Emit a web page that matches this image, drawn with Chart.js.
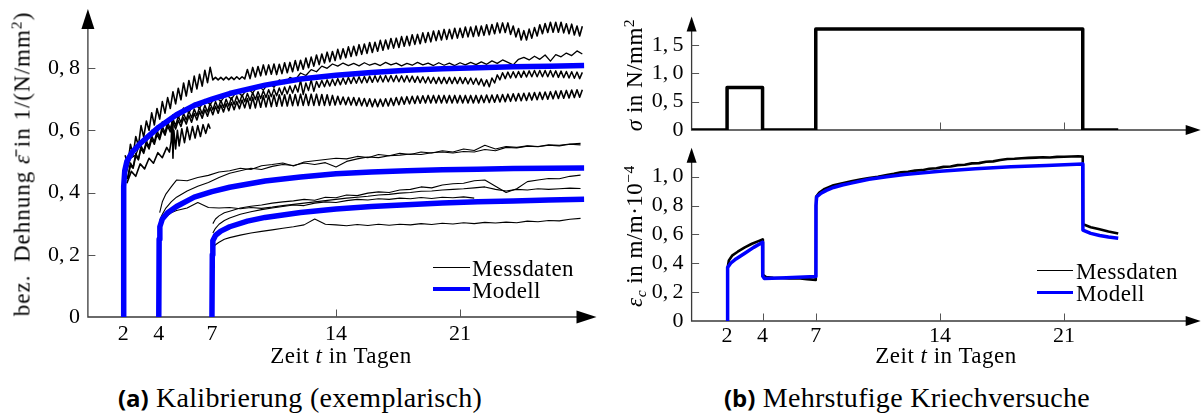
<!DOCTYPE html>
<html><head><meta charset="utf-8">
<script src="https://cdn.jsdelivr.net/npm/chart.js@4.4.1/dist/chart.umd.min.js"></script>
<style>
html,body{margin:0;padding:0;background:#fff;}
body{width:1203px;height:419px;position:relative;overflow:hidden;font-family:"Liberation Serif",serif;color:#000;}
canvas{position:absolute;}
.t{position:absolute;white-space:nowrap;line-height:1;transform:translate(-50%,-50%);font-size:23px;letter-spacing:0.5px;}
.r{transform:translate(-50%,-50%) rotate(-90deg);}
.l{position:absolute;white-space:nowrap;line-height:1;transform:translateY(-50%);font-size:23px;letter-spacing:0.4px;}
.ln{position:absolute;height:0;}
.cap{position:absolute;white-space:nowrap;line-height:1;transform:translate(-50%,-50%);font-size:28px;letter-spacing:0.3px;}
.cap b{font-family:"Open Sans",sans-serif;font-weight:700;font-size:24px;letter-spacing:0;}
sup{font-size:0.68em;vertical-align:0.5em;line-height:0;}
sub{font-size:0.68em;vertical-align:-0.3em;line-height:0;}
</style></head>
<body>
<canvas id="cA" width="600" height="370" style="left:0;top:0;width:600px;height:370px"></canvas>
<canvas id="cB1" width="603" height="140" style="left:600px;top:0;width:603px;height:140px"></canvas>
<canvas id="cB2" width="603" height="230" style="left:600px;top:140px;width:603px;height:230px"></canvas>

<div class="t r" style="left:22px;top:164px;letter-spacing:1px">bez.&ensp;Dehnung <i>ε̄</i> in 1/(N/mm<sup>2</sup>)</div>
<div class="t" style="left:341px;top:355px">Zeit <i>t</i> in Tagen</div>
<div class="ln" style="left:433px;top:267px;width:37px;border-top:1.3px solid #000"></div>
<div class="ln" style="left:433px;top:287px;width:37px;border-top:4px solid #0000ff"></div>
<div class="l" style="left:472px;top:268px">Messdaten</div>
<div class="l" style="left:472px;top:290px">Modell</div>

<div class="t r" style="left:634px;top:75px"><i>σ</i> in N/mm<sup>2</sup></div>
<div class="t r" style="left:634px;top:236px"><i>ε<sub>c</sub></i> in m/m·10<sup>−4</sup></div>
<div class="t" style="left:946px;top:355px">Zeit <i>t</i> in Tagen</div>
<div class="ln" style="left:1037px;top:270px;width:36px;border-top:1.3px solid #000"></div>
<div class="ln" style="left:1037px;top:291px;width:36px;border-top:3.5px solid #0000ff"></div>
<div class="l" style="left:1076px;top:271px">Messdaten</div>
<div class="l" style="left:1076px;top:293px">Modell</div>

<div class="cap" style="left:300px;top:398px"><b>(a)</b> Kalibrierung (exemplarisch)</div>
<div class="cap" style="left:907px;top:398px"><b>(b)</b> Mehrstufige Kriechversuche</div>

<script>
// ================= DATA =================
const xTickDays = [2, 4, 7, 14, 21];
const xTickLabels = ['2', '4', '7', '14', '21'];

// ---- (a) Kalibrierung ----
const aYTicks = [0, 0.2, 0.4, 0.6, 0.8];
const aYLabels = ['0', '0,\u20092', '0,\u20094', '0,\u20096', '0,\u20098'];

// model curves (load applied at day 2, 4, 7)
const modelT2 = [2, 2.02, 2.08, 2.2, 2.5, 3, 3.5, 4, 5, 6, 7, 8, 10, 12, 14, 16, 18, 20, 22, 24, 26, 28];
const modelV2 = [0, 0.42, 0.47, 0.5, 0.53, 0.56, 0.585, 0.61, 0.65, 0.68, 0.70, 0.718, 0.745, 0.765, 0.777, 0.786, 0.793, 0.798, 0.801, 0.804, 0.806, 0.808];
const modelT4 = [4, 4.02, 4.06, 4.2, 4.5, 5, 6, 7, 8, 10, 12, 14, 16, 18, 20, 22, 24, 26, 28];
const modelV4 = [0, 0.25, 0.29, 0.315, 0.335, 0.355, 0.385, 0.403, 0.417, 0.437, 0.45, 0.46, 0.466, 0.47, 0.473, 0.475, 0.477, 0.478, 0.479];
const modelT7 = [7, 7.02, 7.05, 7.2, 7.5, 8, 9, 10, 12, 14, 16, 18, 20, 22, 24, 26, 28];
const modelV7 = [0, 0.2, 0.245, 0.262, 0.276, 0.29, 0.308, 0.32, 0.336, 0.347, 0.355, 0.361, 0.366, 0.37, 0.373, 0.376, 0.378];

// measured, load from day 2: noisy signals as peak samples (gridUp) and trough samples (gridMid)
const gridUp = [
  2.1, 2.4, 2.7, 3.0, 3.3, 3.6, 3.9, 4.2, 4.5, 4.8,
  5.1, 5.4, 5.7, 6.0, 6.3, 6.6, 6.9, 7.2, 7.5, 7.8,
  8.1, 8.4, 8.7, 9.0, 9.3, 9.6, 9.9, 10.2, 10.5, 10.8,
  11.1, 11.4, 11.7, 12.0, 12.3, 12.6, 12.9, 13.2, 13.5, 13.8,
  14.1, 14.4, 14.7, 15.0, 15.3, 15.6, 15.9, 16.2, 16.5, 16.8,
  17.1, 17.4, 17.7, 18.0, 18.3, 18.6, 18.9, 19.2, 19.5, 19.8,
  20.1, 20.4, 20.7, 21.0, 21.3, 21.6, 21.9, 22.2, 22.5, 22.8,
  23.1, 23.4, 23.7, 24.0, 24.3, 24.6, 24.9, 25.2, 25.5, 25.8,
  26.1, 26.4, 26.7, 27.0, 27.3, 27.6, 27.9];
const gridMid = [
  2.25, 2.55, 2.85, 3.15, 3.45, 3.75, 4.05, 4.35, 4.65, 4.95,
  5.25, 5.55, 5.85, 6.15, 6.45, 6.75, 7.05, 7.35, 7.65, 7.95,
  8.25, 8.55, 8.85, 9.15, 9.45, 9.75, 10.05, 10.35, 10.65, 10.95,
  11.25, 11.55, 11.85, 12.15, 12.45, 12.75, 13.05, 13.35, 13.65, 13.95,
  14.25, 14.55, 14.85, 15.15, 15.45, 15.75, 16.05, 16.35, 16.65, 16.95,
  17.25, 17.55, 17.85, 18.15, 18.45, 18.75, 19.05, 19.35, 19.65, 19.95,
  20.25, 20.55, 20.85, 21.15, 21.45, 21.75, 22.05, 22.35, 22.65, 22.95,
  23.25, 23.55, 23.85, 24.15, 24.45, 24.75, 25.05, 25.35, 25.65, 25.95,
  26.25, 26.55, 26.85, 27.15, 27.45, 27.75];

const measAhi = [
  0.52, 0.555, 0.58, 0.615, 0.63, 0.656, 0.67, 0.692, 0.705, 0.724,
  0.735, 0.752, 0.76, 0.774, 0.78, 0.793, 0.802, 0.77, 0.77, 0.771,
  0.771, 0.772, 0.772, 0.795, 0.802, 0.805, 0.81, 0.81, 0.813, 0.812,
  0.817, 0.818, 0.824, 0.825, 0.832, 0.835, 0.842, 0.845, 0.851, 0.853,
  0.86, 0.862, 0.868, 0.87, 0.875, 0.877, 0.882, 0.883, 0.889, 0.89,
  0.895, 0.896, 0.901, 0.902, 0.907, 0.908, 0.913, 0.914, 0.919, 0.92,
  0.924, 0.924, 0.928, 0.928, 0.932, 0.932, 0.935, 0.935, 0.939, 0.94,
  0.945, 0.945, 0.945, 0.935, 0.927, 0.92, 0.925, 0.93, 0.939, 0.943,
  0.947, 0.947, 0.947, 0.942, 0.941, 0.935, 0.934];
const measAlo = [
  0.49, 0.52, 0.55, 0.578, 0.60, 0.617, 0.636, 0.655, 0.67, 0.685,
  0.698, 0.71, 0.722, 0.733, 0.742, 0.753, 0.762, 0.762, 0.762, 0.763,
  0.763, 0.764, 0.765, 0.766, 0.771, 0.775, 0.778, 0.78, 0.779, 0.782,
  0.785, 0.788, 0.792, 0.796, 0.801, 0.806, 0.811, 0.816, 0.82, 0.824,
  0.829, 0.833, 0.837, 0.84, 0.844, 0.847, 0.85, 0.854, 0.857, 0.861,
  0.864, 0.866, 0.87, 0.872, 0.876, 0.878, 0.882, 0.884, 0.888, 0.89,
  0.892, 0.894, 0.896, 0.898, 0.90, 0.901, 0.903, 0.905, 0.907, 0.91,
  0.913, 0.914, 0.908, 0.90, 0.89, 0.89, 0.896, 0.903, 0.91, 0.914,
  0.915, 0.915, 0.913, 0.91, 0.906, 0.903];
const measB = [
  0.45, 0.51, 0.52, 0.566, 0.562, 0.6, 0.592, 0.627, 0.616, 0.65,
  0.64, 0.672, 0.656, 0.687, 0.67, 0.699, 0.682, 0.708, 0.692, 0.716,
  0.70, 0.726, 0.71, 0.735, 0.72, 0.744, 0.729, 0.752, 0.738, 0.762,
  0.75, 0.77, 0.762, 0.784, 0.776, 0.795, 0.788, 0.806, 0.799, 0.813,
  0.806, 0.816, 0.808, 0.815, 0.807, 0.817, 0.809, 0.815, 0.808, 0.818,
  0.81, 0.816, 0.807, 0.815, 0.809, 0.818, 0.81, 0.816, 0.808, 0.817,
  0.809, 0.816, 0.808, 0.817, 0.81, 0.818, 0.811, 0.82, 0.812, 0.823,
  0.815, 0.826, 0.818, 0.81, 0.828, 0.834, 0.826, 0.838, 0.828, 0.842,
  0.822, 0.843, 0.836, 0.848, 0.84, 0.855, 0.845];
const measChi = [
  0.46, 0.495, 0.525, 0.55, 0.565, 0.582, 0.598, 0.613, 0.625, 0.636,
  0.645, 0.654, 0.661, 0.668, 0.674, 0.68, 0.686, 0.692, 0.696, 0.70,
  0.705, 0.71, 0.714, 0.718, 0.721, 0.724, 0.727, 0.73, 0.733, 0.736,
  0.739, 0.742, 0.745, 0.76, 0.752, 0.762, 0.757, 0.76, 0.762, 0.764,
  0.766, 0.768, 0.77, 0.771, 0.772, 0.773, 0.774, 0.775, 0.775, 0.776,
  0.776, 0.776, 0.775, 0.775, 0.774, 0.773, 0.772, 0.771, 0.77, 0.77,
  0.77, 0.77, 0.77, 0.77, 0.769, 0.768, 0.767, 0.765, 0.762, 0.768,
  0.778, 0.785, 0.787, 0.788, 0.789, 0.79, 0.791, 0.792, 0.792, 0.792,
  0.792, 0.791, 0.79, 0.789, 0.788, 0.787, 0.786];
const measClo = [
  0.447, 0.48, 0.508, 0.532, 0.547, 0.562, 0.578, 0.592, 0.605, 0.615,
  0.625, 0.633, 0.64, 0.647, 0.653, 0.659, 0.665, 0.67, 0.674, 0.678,
  0.683, 0.688, 0.692, 0.696, 0.699, 0.702, 0.705, 0.708, 0.711, 0.714,
  0.717, 0.72, 0.723, 0.715, 0.728, 0.725, 0.738, 0.74, 0.742, 0.744,
  0.746, 0.748, 0.75, 0.751, 0.752, 0.753, 0.754, 0.755, 0.755, 0.756,
  0.756, 0.756, 0.755, 0.755, 0.754, 0.753, 0.752, 0.751, 0.75, 0.75,
  0.75, 0.75, 0.75, 0.75, 0.749, 0.748, 0.746, 0.742, 0.74, 0.752,
  0.762, 0.766, 0.768, 0.769, 0.77, 0.771, 0.772, 0.772, 0.772, 0.772,
  0.771, 0.77, 0.769, 0.768, 0.767, 0.766];
const measDhi = [
  0.452, 0.487, 0.517, 0.542, 0.557, 0.572, 0.587, 0.602, 0.614, 0.624,
  0.632, 0.64, 0.647, 0.654, 0.66, 0.666, 0.672, 0.677, 0.681, 0.685,
  0.689, 0.692, 0.697, 0.702, 0.706, 0.709, 0.711, 0.712, 0.713, 0.714,
  0.714, 0.715, 0.715, 0.716, 0.716, 0.716, 0.716, 0.715, 0.714, 0.712,
  0.709, 0.707, 0.706, 0.705, 0.704, 0.702, 0.701, 0.70, 0.70, 0.701,
  0.703, 0.705, 0.707, 0.708, 0.709, 0.71, 0.711, 0.712, 0.712, 0.712,
  0.712, 0.712, 0.712, 0.712, 0.712, 0.712, 0.712, 0.712, 0.713, 0.713,
  0.714, 0.715, 0.716, 0.717, 0.718, 0.719, 0.72, 0.721, 0.722, 0.723,
  0.724, 0.726, 0.727, 0.728, 0.729, 0.73, 0.73];
const measDlo = [
  0.445, 0.478, 0.505, 0.526, 0.54, 0.555, 0.57, 0.584, 0.595, 0.604,
  0.612, 0.62, 0.626, 0.633, 0.639, 0.645, 0.65, 0.655, 0.659, 0.663,
  0.666, 0.669, 0.672, 0.67, 0.672, 0.674, 0.675, 0.676, 0.677, 0.678,
  0.678, 0.679, 0.679, 0.68, 0.68, 0.68, 0.68, 0.68, 0.68, 0.681,
  0.683, 0.682, 0.681, 0.68, 0.679, 0.677, 0.676, 0.676, 0.677, 0.678,
  0.68, 0.682, 0.684, 0.685, 0.686, 0.687, 0.688, 0.688, 0.688, 0.688,
  0.688, 0.688, 0.688, 0.688, 0.688, 0.688, 0.688, 0.689, 0.689, 0.69,
  0.691, 0.692, 0.693, 0.694, 0.695, 0.696, 0.697, 0.698, 0.699, 0.70,
  0.701, 0.702, 0.703, 0.704, 0.705, 0.706];
const measET = [2.2, 2.45, 2.7, 2.95, 3.2, 3.45, 3.7, 3.95, 4.2, 4.45,
  4.6, 4.7, 4.75, 4.8, 4.85, 4.95, 5.05, 5.15, 5.3, 5.45,
  5.6, 5.75, 5.9, 6.05, 6.2, 6.35, 6.5, 6.65, 6.8, 6.9];
const measEV = [0.43, 0.468, 0.452, 0.492, 0.476, 0.51, 0.494, 0.528, 0.512, 0.545,
  0.53, 0.565, 0.64, 0.51, 0.6, 0.54, 0.6, 0.55, 0.605, 0.56,
  0.61, 0.57, 0.612, 0.575, 0.615, 0.58, 0.618, 0.59, 0.62, 0.605];

// measured, load from day 4
const grid4 = [
  4.05, 4.2, 4.4, 4.7, 5.0, 5.6, 6.2, 6.8, 7.4, 8.0,
  8.6, 9.2, 9.8, 10.4, 11.0, 11.6, 12.2, 12.8, 13.4, 14.0,
  14.6, 15.2, 15.8, 16.4, 17.0, 17.6, 18.2, 18.8, 19.4, 20.0,
  20.6, 21.2, 21.8, 22.4, 23.0, 23.6, 24.2, 24.8, 25.4, 26.0,
  26.6, 27.2, 27.8];
const measL1 = [
  0.335, 0.37, 0.395, 0.418, 0.44, 0.438, 0.448, 0.455, 0.466, 0.47,
  0.478, 0.474, 0.486, 0.49, 0.495, 0.485, 0.498, 0.502, 0.506, 0.51,
  0.508, 0.516, 0.512, 0.522, 0.518, 0.526, 0.522, 0.53, 0.527, 0.534,
  0.53, 0.54, 0.535, 0.552, 0.54, 0.548, 0.545, 0.55, 0.548, 0.553,
  0.552, 0.556, 0.558];
const measL2 = [
  0.31, 0.33, 0.35, 0.37, 0.385, 0.405, 0.42, 0.432, 0.448, 0.462,
  0.47, 0.478, 0.474, 0.484, 0.49, 0.487, 0.495, 0.49, 0.496, 0.482,
  0.50, 0.508, 0.514, 0.512, 0.518, 0.52, 0.524, 0.522, 0.528, 0.53,
  0.527, 0.532, 0.53, 0.538, 0.534, 0.545, 0.543, 0.549, 0.547, 0.552,
  0.55, 0.555, 0.553];
const measL3 = [
  0.30, 0.31, 0.322, 0.335, 0.342, 0.35, 0.368, 0.352, 0.35, 0.352,
  0.348, 0.352, 0.349, 0.353, 0.358, 0.362, 0.366, 0.37, 0.374, 0.378,
  0.382, 0.385, 0.388, 0.392, 0.394, 0.398, 0.40, 0.404, 0.405, 0.408,
  0.41, 0.412, 0.415, 0.418, 0.41, 0.405, 0.41, 0.408, 0.412, 0.41,
  0.412, 0.414, 0.413];

// measured, load from day 7
const grid7 = [
  7.05, 7.2, 7.4, 7.7, 8.0, 8.6, 9.2, 9.8, 10.4, 11.0,
  11.6, 12.2, 12.8, 13.4, 14.0, 14.6, 15.2, 15.8, 16.4, 17.0,
  17.6, 18.2, 18.8, 19.4, 20.0, 20.6, 21.2, 21.8, 22.4, 23.0,
  23.6, 24.2, 24.8, 25.4, 26.0, 26.6, 27.2, 27.8];
const measM1 = [
  0.30, 0.315, 0.325, 0.335, 0.34, 0.35, 0.356, 0.36, 0.366, 0.37,
  0.373, 0.378, 0.375, 0.385, 0.383, 0.392, 0.39, 0.398, 0.402, 0.40,
  0.408, 0.41, 0.418, 0.415, 0.424, 0.428, 0.43, 0.438, 0.44, 0.42,
  0.40, 0.412, 0.435, 0.44, 0.445, 0.444, 0.452, 0.456];
const measM2 = [
  0.27, 0.285, 0.298, 0.31, 0.318, 0.33, 0.338, 0.345, 0.35, 0.355,
  0.36, 0.358, 0.366, 0.37, 0.368, 0.374, 0.378, 0.376, 0.38, 0.378,
  0.382, 0.38, 0.384, 0.381, 0.385, 0.383, 0.386, 0.382];
const measM4 = [
  0.22, 0.232, 0.24, 0.25, 0.255, 0.263, 0.27, 0.275, 0.28, 0.285,
  0.29, 0.296, 0.315, 0.298, 0.296, 0.293, 0.297, 0.294, 0.298, 0.295,
  0.298, 0.296, 0.30, 0.297, 0.301, 0.299, 0.303, 0.30, 0.304, 0.302,
  0.305, 0.303, 0.308, 0.306, 0.31, 0.309, 0.314, 0.317];

// ---- (b) Mehrstufige Kriechversuche ----
const sigmaYTicks = [0, 0.5, 1.0, 1.5];
const sigmaYLabels = ['0', '0,\u20095', '1,\u20090', '1,\u20095'];
const sigmaT = [0, 2, 2, 4, 4, 7, 7, 22.05, 22.05, 24.05];
const sigmaV = [0, 0, 0.75, 0.75, 0, 0, 1.78, 1.78, 0, 0];

const epsYTicks = [0, 0.2, 0.4, 0.6, 0.8, 1.0];
const epsYLabels = ['0', '0,\u20092', '0,\u20094', '0,\u20096', '0,\u20098', '1,\u20090'];
const epsModT = [2, 2.01, 2.05, 2.2, 2.5, 3, 3.5, 4, 4.01, 4.1,
  5, 6, 7, 7.01, 7.05, 7.3, 7.6, 8, 8.5, 9,
  10, 11, 12, 14, 16, 18, 20, 22.05, 22.06, 22.5,
  23, 23.5, 24.05];
const epsModV = [0, 0.3, 0.37, 0.4, 0.43, 0.47, 0.51, 0.545, 0.31, 0.295,
  0.298, 0.303, 0.308, 0.8, 0.86, 0.885, 0.905, 0.925, 0.942, 0.955,
  0.982, 1.0, 1.015, 1.038, 1.055, 1.068, 1.078, 1.088, 0.63, 0.607,
  0.592, 0.582, 0.573];
const epsMessT = [2, 2.02, 2.1, 2.3, 2.6, 3, 3.4, 3.8, 4, 4.02,
  4.2, 4.6, 5, 5.5, 6, 6.5, 7, 7.02, 7.2, 7.5,
  8, 8.5, 9, 9.5, 10, 10.5, 11, 11.4, 11.8, 12.2,
  12.6, 13.0, 13.4, 13.8, 14.2, 14.6, 15.0, 15.4, 15.8, 16.2,
  16.6, 17.0, 17.4, 17.8, 18.2, 18.6, 19.0, 19.4, 19.8, 20.2,
  20.6, 21.0, 21.4, 21.8, 22.05, 22.07, 22.5, 23, 23.5, 24.05];
const epsMessV = [0, 0.36, 0.42, 0.455, 0.48, 0.51, 0.535, 0.555, 0.565, 0.32,
  0.305, 0.30, 0.298, 0.295, 0.296, 0.29, 0.285, 0.86, 0.89, 0.915,
  0.94, 0.955, 0.968, 0.98, 0.99, 1.0, 1.012, 1.02, 1.03, 1.034,
  1.042, 1.045, 1.055, 1.058, 1.068, 1.07, 1.08, 1.083, 1.092, 1.094,
  1.103, 1.106, 1.115, 1.122, 1.124, 1.128, 1.13, 1.132, 1.134, 1.133,
  1.137, 1.138, 1.14, 1.141, 1.14, 0.67, 0.65, 0.635, 0.62, 0.606];

// ================= RENDERING =================
const BLUE = '#0000ff';
const tickFont = {family: '"Liberation Serif", serif', size: 22};

function pts(xs, ys) {
  const n = Math.min(xs.length, ys.length), out = [];
  for (let i = 0; i < n; i++) out.push({x: xs[i], y: ys[i]});
  return out;
}
function noisy(xHi, yHi, xLo, yLo) {
  return pts(xHi, yHi).concat(pts(xLo, yLo)).sort((a, b) => a.x - b.x);
}
function line(label, data, color, w) {
  return {label, data, borderColor: color, borderWidth: w, pointRadius: 0, pointHoverRadius: 0,
    fill: false, tension: 0, borderJoinStyle: 'round', borderCapStyle: 'butt'};
}
function makeAxes(o) {
  return {
    id: 'axes',
    beforeDatasetsDraw(chart) {
      const ctx = chart.ctx, a = chart.chartArea;
      const xs = chart.scales.x, ys = chart.scales.y;
      const x0 = xs.getPixelForValue(0), y0 = ys.getPixelForValue(0);
      ctx.save();
      ctx.strokeStyle = '#3a3a3a'; ctx.lineWidth = 1.3;
      ctx.beginPath();
      ctx.moveTo(x0, y0); ctx.lineTo(a.right - o.L + 2, y0);
      ctx.moveTo(x0, y0 + 0.65); ctx.lineTo(x0, a.top + o.L - 2);
      ctx.stroke();
      ctx.strokeStyle = '#555'; ctx.lineWidth = 1;
      ctx.beginPath();
      o.xTicks.forEach(v => { const p = Math.round(xs.getPixelForValue(v)) + 0.5; ctx.moveTo(p, y0); ctx.lineTo(p, y0 - o.tick); });
      o.yTicks.forEach(v => { if (v === 0) return; const p = Math.round(ys.getPixelForValue(v)) + 0.5; ctx.moveTo(x0, p); ctx.lineTo(x0 + o.tick, p); });
      ctx.stroke();
      ctx.fillStyle = '#000';
      ctx.beginPath(); ctx.moveTo(a.right, y0); ctx.lineTo(a.right - o.L, y0 - o.W / 2); ctx.lineTo(a.right - o.L, y0 + o.W / 2); ctx.closePath(); ctx.fill();
      ctx.beginPath(); ctx.moveTo(x0, a.top); ctx.lineTo(x0 - o.W / 2, a.top + o.L); ctx.lineTo(x0 + o.W / 2, a.top + o.L); ctx.closePath(); ctx.fill();
      ctx.restore();
    }
  };
}
function makeChart(id, datasets, o) {
  return new Chart(document.getElementById(id), {
    type: 'line',
    data: {datasets},
    plugins: [makeAxes(o)],
    options: {
      responsive: false, animation: false, devicePixelRatio: 1,
      layout: {padding: {left: 0, top: o.padTop, right: o.padRight, bottom: 0}},
      plugins: {legend: {display: false}, tooltip: {enabled: false}},
      events: [],
      scales: {
        x: {type: 'linear', min: 0, max: o.xMax,
          grid: {display: false, drawTicks: false}, border: {display: false},
          afterBuildTicks: s => { s.ticks = o.xTicks.map(v => ({value: v})); },
          ticks: {display: !!o.xLabels, padding: o.xPad, autoSkip: false, maxRotation: 0, minRotation: 0,
            font: tickFont, color: '#000', callback: (v, i) => (o.xLabels ? o.xLabels[i] : '')},
          afterFit: s => { s.height = o.xH; s.paddingLeft = 0; s.paddingRight = 0; }},
        y: {type: 'linear', min: 0, max: o.yMax,
          grid: {display: false, drawTicks: false}, border: {display: false},
          afterBuildTicks: s => { s.ticks = o.yTicks.map(v => ({value: v})); },
          ticks: {padding: 8, autoSkip: false, font: tickFont, color: '#000', callback: (v, i) => o.yLabels[i]},
          afterFit: s => { s.width = o.yW; s.paddingTop = 0; s.paddingBottom = 0; }}
      }
    }
  });
}

// (a)
makeChart('cA', [
  line('Modell', pts(modelT2, modelV2), BLUE, 5.5),
  line('Modell', pts(modelT4, modelV4), BLUE, 5.5),
  line('Modell', pts(modelT7, modelV7), BLUE, 5.5),
  line('Messdaten', noisy(gridUp, measAhi, gridMid, measAlo), '#000', 1.6),
  line('Messdaten', pts(gridUp, measB), '#000', 1.3),
  line('Messdaten', noisy(gridUp, measChi, gridMid, measClo), '#000', 1.5),
  line('Messdaten', noisy(gridUp, measDhi, gridMid, measDlo), '#000', 1.6),
  line('Messdaten', pts(measET, measEV), '#000', 1.6),
  line('Messdaten', pts(grid4, measL1), '#000', 1.1),
  line('Messdaten', pts(grid4, measL2), '#000', 1.1),
  line('Messdaten', pts(grid4, measL3), '#000', 1.1),
  line('Messdaten', pts(grid7, measM1), '#000', 1.1),
  line('Messdaten', pts(grid7, measM2), '#000', 1.1),
  line('Messdaten', pts(grid7, measM4), '#000', 1.1)
], {xMax: 28.7, yMax: 0.99, yW: 87.9, xH: 53, padTop: 8.9, padRight: 3.5, xPad: 4,
    xTicks: xTickDays, xLabels: xTickLabels, yTicks: aYTicks, yLabels: aYLabels, L: 20, W: 13, tick: 7.5});

// (b) top: stress
makeChart('cB1', [
  line('σ', pts(sigmaT, sigmaV), '#000', 3.5)
], {xMax: 28.7, yMax: 2.0, yW: 91.6, xH: 10, padTop: 16.6, padRight: 2.3, xPad: 2,
    xTicks: xTickDays, xLabels: null, yTicks: sigmaYTicks, yLabels: sigmaYLabels, L: 15, W: 10, tick: 7.5});

// (b) bottom: creep strain
makeChart('cB2', [
  line('Modell', pts(epsModT, epsModV), BLUE, 3.5),
  line('Messdaten', pts(epsMessT, epsMessV), '#000', 2.6)
], {xMax: 28.7, yMax: 1.2, yW: 91.6, xH: 49, padTop: 7.8, padRight: 2.3, xPad: 2,
    xTicks: xTickDays, xLabels: xTickLabels, yTicks: epsYTicks, yLabels: epsYLabels, L: 15, W: 10, tick: 7.5});
</script>
</body></html>
